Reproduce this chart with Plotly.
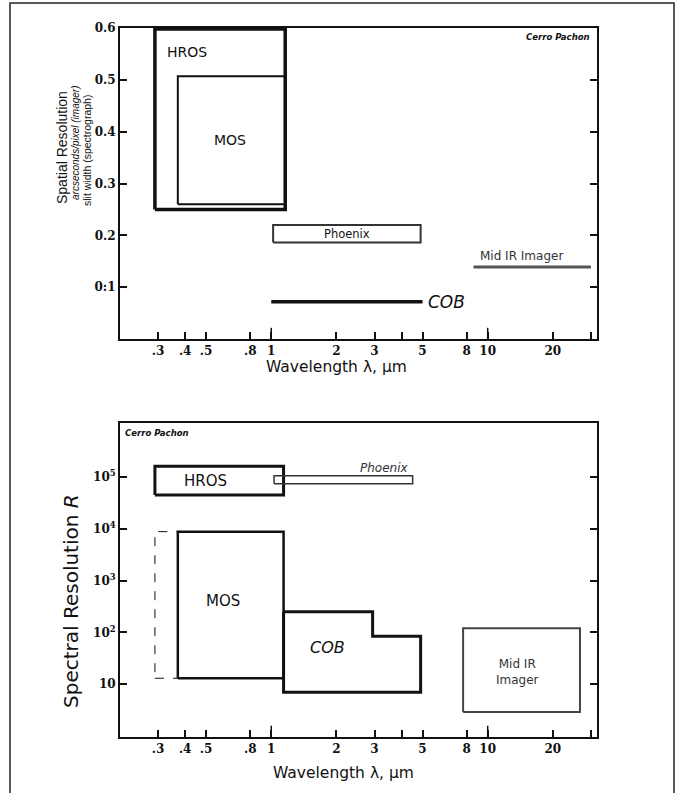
import math
import plotly.graph_objects as go

# ---------------- data ----------------
# x tick values / labels (wavelength, micron)
X_TICKS = [0.3, 0.4, 0.5, 0.8, 1, 2, 3, 5, 8, 10, 20]
X_TICK_TEXT = [".3", ".4", ".5", ".8", "1", "2", "3", "5", "8", "10", "20"]
X_MINOR_TICKS = [4, 30]
X_LONG_TICKS = [1, 10]
X_RANGE = [0.2, 32]

# top panel: spatial resolution (arcsec)
SPATIAL_TICKS = [0.1, 0.2, 0.3, 0.4, 0.5, 0.6]
SPATIAL_TICK_TEXT = ["0:1", "0.2", "0.3", "0.4", "0.5", "0.6"]
SPATIAL_RANGE = [0, 0.6]

HROS_SP_X = [0.29, 1.16]
HROS_SP_Y = [0.25, 0.598]
MOS_SP_X = [0.37, 1.16]
MOS_SP_Y = [0.26, 0.507]
PHOENIX_SP_X = [1.02, 4.9]
PHOENIX_SP_Y = [0.186, 0.22]
MIDIR_SP_X = [8.6, 30]
MIDIR_SP_Y = [0.139, 0.139]
COB_SP_X = [1.0, 5.0]
COB_SP_Y = [0.072, 0.072]

# bottom panel: spectral resolution R
SPECTRAL_TICKS = [10, 100, 1000, 10000, 100000]
SPECTRAL_TICK_TEXT = ["10", "10<sup>2</sup>", "10<sup>3</sup>", "10<sup>4</sup>", "10<sup>5</sup>"]
SPECTRAL_RANGE = [0.955, 1.1e6]

HROS_R_X = [0.29, 1.14]
HROS_R_Y = [4.5e4, 1.6e5]
PHOENIX_R_X = [1.03, 4.5]
PHOENIX_R_Y = [7.4e4, 1.05e5]
MOSEXT_R_X = [0.29, 0.37]
MOSEXT_R_Y = [13, 8.8e3]
MOS_R_X = [0.37, 1.14]
MOS_R_Y = [13, 8.8e3]
COB_R_X = [1.14, 2.94, 2.94, 4.9, 4.9, 1.14, 1.14]
COB_R_Y = [250, 250, 84, 84, 7, 7, 250]
MIDIR_R_X = [7.7, 26.7]
MIDIR_R_Y = [2.9, 120]


def rect(xs, ys):
    x0, x1 = xs
    y0, y1 = ys
    return [x0, x1, x1, x0, x0], [y0, y0, y1, y1, y0]


def gmean(a):
    return math.sqrt(a[0] * a[1])


W, H = 680, 793
fig = go.Figure()

INK = "#111111"


def add_line(x, y, width, axes, color=INK, dash="solid"):
    fig.add_trace(go.Scatter(
        x=x, y=y, mode="lines", xaxis=axes[0], yaxis=axes[1],
        line=dict(color=color, width=width, dash=dash),
        hoverinfo="skip", showlegend=False))


TOP = ("x", "y")
BOT = ("x2", "y2")

# top panel shapes
add_line(*rect(HROS_SP_X, HROS_SP_Y), 3.5, TOP)
add_line(*rect(MOS_SP_X, MOS_SP_Y), 2, TOP)
add_line(*rect(PHOENIX_SP_X, PHOENIX_SP_Y), 2, TOP, color="#333")
add_line(MIDIR_SP_X, MIDIR_SP_Y, 3, TOP, color="#555")
add_line(COB_SP_X, COB_SP_Y, 3.5, TOP)

# bottom panel shapes
add_line(*rect(HROS_R_X, HROS_R_Y), 3, BOT)
add_line(*rect(PHOENIX_R_X, PHOENIX_R_Y), 1.5, BOT, color="#333")
add_line(*rect(MOSEXT_R_X, MOSEXT_R_Y), 1, BOT, dash="dash")
add_line(*rect(MOS_R_X, MOS_R_Y), 2.5, BOT)
add_line(COB_R_X, COB_R_Y, 3, BOT)
add_line(*rect(MIDIR_R_X, MIDIR_R_Y), 2, BOT, color="#444")

TICKFONT = dict(family="DejaVu Serif", size=12, color=INK, weight="bold")
SANS = "DejaVu Sans"
ARIAL = "Liberation Sans"

xcommon = dict(
    type="log", range=[math.log10(X_RANGE[0]), math.log10(X_RANGE[1])],
    tickmode="array", tickvals=X_TICKS, ticktext=X_TICK_TEXT,
    ticks="inside", ticklen=7, tickwidth=1.5, tickcolor=INK,
    minor=dict(tickmode="array", tickvals=X_MINOR_TICKS, ticks="inside",
               ticklen=7, tickwidth=1.5, tickcolor=INK),
    showline=True, linewidth=2, linecolor=INK, mirror=True,
    showgrid=False, zeroline=False, tickfont=TICKFONT, automargin=False,
    domain=[120 / W, 597 / W],
)

ycommon = dict(
    tickmode="array", ticks="inside", ticklen=7, tickwidth=1.5, tickcolor=INK,
    showline=True, linewidth=2, linecolor=INK, mirror="ticks",
    showgrid=False, zeroline=False, tickfont=TICKFONT, automargin=False,
)

fig.update_layout(
    template="none",
    width=W, height=H,
    margin=dict(l=0, r=0, t=0, b=0, pad=0, autoexpand=False),
    paper_bgcolor="white", plot_bgcolor="white",
    showlegend=False,
    xaxis=dict(**xcommon, anchor="y"),
    yaxis=dict(**ycommon, range=SPATIAL_RANGE, tickvals=SPATIAL_TICKS,
               ticktext=SPATIAL_TICK_TEXT, anchor="x",
               domain=[1 - 339 / H, 1 - 28 / H]),
    xaxis2=dict(**xcommon, anchor="y2"),
    yaxis2=dict(**ycommon, type="log",
                range=[math.log10(SPECTRAL_RANGE[0]), math.log10(SPECTRAL_RANGE[1])],
                tickvals=SPECTRAL_TICKS, ticktext=SPECTRAL_TICK_TEXT, anchor="x2",
                domain=[1 - 737 / H, 1 - 423 / H]),
)

# longer ticks at decades
for xa, ya in (("x", "y"), ("x2", "y2")):
    for v in X_LONG_TICKS:
        fig.add_shape(type="line", xref=xa, x0=v, x1=v,
                      yref=f"{ya} domain", y0=0, y1=0.036,
                      line=dict(color=INK, width=1.5))

# outer frame
fig.add_shape(type="path", xref="paper", yref="paper",
              path=f"M {10 / W},-0.01 L {10 / W},{1 - 3 / H} L {674 / W},{1 - 3 / H} L {674 / W},-0.01",
              line=dict(color="#222", width=1.5))


def label(text, x, y, axes, size=14, xanchor="center", italic=False, family=SANS, color=INK):
    fig.add_annotation(
        text=f"<i>{text}</i>" if italic else text, x=x, y=y,
        xref=axes[0], yref=axes[1], showarrow=False, xanchor=xanchor, yanchor="middle",
        font=dict(family=family, size=size, color=color))


def logpos(v):
    return math.log10(v)


# top labels (log x axis annotations use log10 positions)
label("HROS", logpos(0.408), 0.554, TOP, size=14)
label("MOS", logpos(0.644), 0.384, TOP, size=14)
label("Phoenix", logpos(gmean(PHOENIX_SP_X)), sum(PHOENIX_SP_Y) / 2, TOP, size=11.5)
label("Mid IR Imager", logpos(14.3), 0.160, TOP, size=12, color="#333")
label("COB", logpos(5.2), COB_SP_Y[0], TOP, size=17, xanchor="left", italic=True)

# bottom labels
label("HROS", logpos(0.499), math.log10(gmean(HROS_R_Y)), BOT, size=15)
label("Phoenix", logpos(3.35), math.log10(1.48e5), BOT, size=12, italic=True, color="#333")
label("MOS", logpos(0.598), math.log10(403), BOT, size=15)
label("COB", logpos(1.81), math.log10(50), BOT, size=16, italic=True)
label("Mid IR<br>Imager", logpos(13.8), math.log10(17.2), BOT, size=12, color="#333")

# corner labels
fig.add_annotation(text="<b><i>Cerro Pachon</i></b>", xref="x domain", yref="y domain",
                   x=0.99, y=0.971, xanchor="right", yanchor="middle", showarrow=False,
                   font=dict(family=SANS, size=8.5, color=INK))
fig.add_annotation(text="<b><i>Cerro Pachon</i></b>", xref="x2 domain", yref="y2 domain",
                   x=0.006, y=0.968, xanchor="left", yanchor="middle", showarrow=False,
                   font=dict(family=SANS, size=8.5, color=INK))


def title(text, px, py, size, family, angle=0):
    fig.add_annotation(text=text, xref="paper", yref="paper",
                       x=px / W, y=1 - py / H, xanchor="center", yanchor="middle",
                       textangle=angle, showarrow=False,
                       font=dict(family=family, size=size, color=INK))


# axis titles
title("Spatial Resolution", 62, 148, 14, ARIAL, -90)
title("<i>arcseconds/pixel (imager)</i>", 76, 143, 10, ARIAL, -90)
title("slit width (spectrograph)", 87, 151, 10.5, ARIAL, -90)
title("Spectral Resolution <i>R</i>", 71, 601, 20, SANS, -90)
title("Wavelength λ, µm", 336, 367, 15.5, SANS)
title("Wavelength λ, µm", 343, 773, 15.5, SANS)

fig.write_html(
    "out.html",
    config={"displayModeBar": False},
    post_script=(
        "document.body.style.margin='0px';"
        "document.body.style.overflow='hidden';"
        "var gd=document.getElementById('{plot_id}');"
        "gd.style.position='fixed';gd.style.top='0px';gd.style.left='0px';"
    ),
)
